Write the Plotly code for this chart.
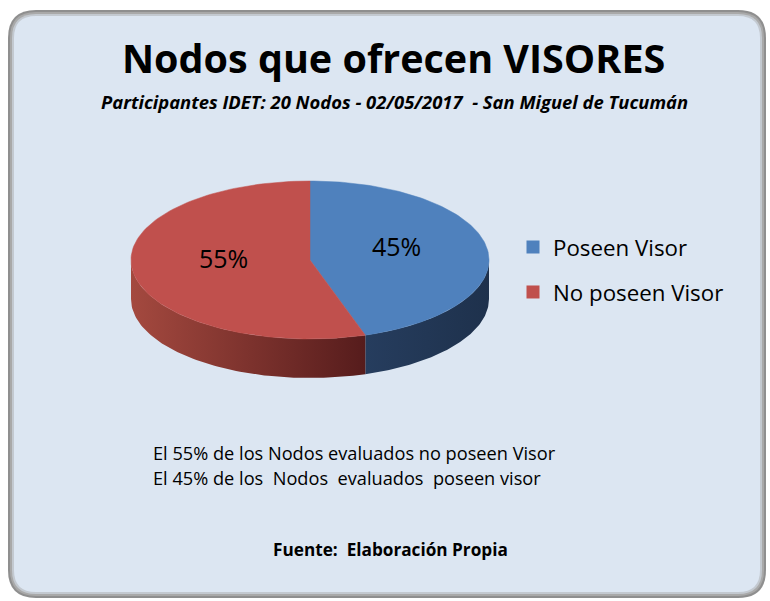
import numpy as np
import plotly.graph_objects as go

#%% data
labels = ["Poseen Visor", "No poseen Visor"]
values = [45, 55]
title = "Nodos que ofrecen VISORES"
subtitle = "Participantes IDET: 20 Nodos - 02/05/2017  - San Miguel de Tucumán"
notes = ["El 55% de los Nodos evaluados no poseen Visor",
         "El 45% de los  Nodos  evaluados  poseen visor"]
source = "Fuente:  Elaboración Propia"

#%% style
top_colors = ["#4F81BD", "#C0504D"]
side_scales = [[[0, "#263D5E"], [1, "#1E314C"]],
               [[0, "#A4493F"], [1, "#561C1C"]]]
FONT = "Open Sans"
W, H = 770, 601
cx, cy, rx, ry, depth = 310, 260, 179, 79, 39   # pie placement in px


def ell(theta_deg, dy=0):
    t = np.radians(theta_deg)
    return cx + rx * np.sin(t), cy - ry * np.cos(t) + dy


def rounded(x0, y0, x1, y1, r):
    return (f"M{x0+r},{y0} L{x1-r},{y0} Q{x1},{y0} {x1},{y0+r} "
            f"L{x1},{y1-r} Q{x1},{y1} {x1-r},{y1} L{x0+r},{y1} "
            f"Q{x0},{y1} {x0},{y1-r} L{x0},{y0+r} Q{x0},{y0} {x0+r},{y0} Z")


fig = go.Figure()

total = sum(values)
starts = np.cumsum([0] + values[:-1]) / total * 360
ends = np.cumsum(values) / total * 360

#%% side walls (only the front half, 90..270 deg, is visible)
for i in range(len(values)):
    a, b = max(starts[i], 90), min(ends[i], 270)
    if a >= b:
        continue
    th = np.linspace(a, b, 80)
    xt, yt = ell(th)
    xb, yb = ell(th[::-1], depth)
    fig.add_trace(go.Scatter(
        x=np.concatenate([xt, xb]), y=np.concatenate([yt, yb]),
        fill="toself", mode="lines", line=dict(width=0),
        fillgradient=dict(type="horizontal", colorscale=side_scales[i]),
        showlegend=False, hoverinfo="skip"))

#%% top faces
for i in range(len(values)):
    th = np.linspace(starts[i], ends[i], 120)
    xs, ys = ell(th)
    fig.add_trace(go.Scatter(
        x=np.concatenate([[cx], xs, [cx]]), y=np.concatenate([[cy], ys, [cy]]),
        fill="toself", fillcolor=top_colors[i], mode="lines",
        line=dict(width=0.5, color=top_colors[i]),
        showlegend=False, hoverinfo="skip"))
    mid = (starts[i] + ends[i]) / 2
    t = np.radians(mid)
    fig.add_annotation(x=cx + 0.49 * rx * np.sin(t),
                       y=cy - 0.49 * ry * np.cos(t) - 8,
                       text=f"{values[i] / total:.0%}", showarrow=False,
                       font=dict(size=25, color="black", family=FONT))

# legend entries
for i in range(len(values)):
    fig.add_trace(go.Scatter(
        x=[None], y=[None], mode="markers", name=labels[i],
        legendgroup=labels[i],
        marker=dict(symbol="square", size=13, color=top_colors[i])))

#%% frame
frame = [(0, "#8f8f8f"), (2, "#a9a9a9"), (4, "#c3c9d0"), (6, "#DCE6F2")]
for inset, col in frame:
    fig.add_shape(type="path", layer="below",
                  path=rounded(8 + inset, 10 + inset, 766 - inset, 598 - inset, 28 - inset),
                  fillcolor=col, line=dict(width=0), xref="x", yref="y")

#%% texts
fig.add_annotation(x=393, y=58, text=f"<b>{title}</b>", showarrow=False,
                   font=dict(size=39.5, color="black", family=FONT))
fig.add_annotation(x=394, y=101, text=f"<b><i>{subtitle}</i></b>", showarrow=False,
                   font=dict(size=18.4, color="black", family=FONT))
for k, line in enumerate(notes):
    fig.add_annotation(x=151, y=453 + 25 * k, text=line, showarrow=False,
                       xanchor="left", font=dict(size=18.2, color="black", family=FONT))
fig.add_annotation(x=390, y=549, text=f"<b>{source}</b>", showarrow=False,
                   font=dict(size=17.2, color="black", family=FONT))

fig.update_layout(
    width=W, height=H, margin=dict(l=0, r=0, t=0, b=0),
    paper_bgcolor="white", plot_bgcolor="rgba(0,0,0,0)",
    xaxis=dict(range=[0, W], visible=False, fixedrange=True),
    yaxis=dict(range=[H, 0], visible=False, fixedrange=True),
    legend=dict(x=513 / W, y=1 - 226 / H, xanchor="left", yanchor="top",
                bgcolor="rgba(0,0,0,0)", tracegroupgap=13,
                font=dict(size=22.3, color="black", family=FONT)),
    showlegend=True,
)

fig.write_html("out.html", config={"displayModeBar": False},
               post_script="document.body.style.margin='0';")
